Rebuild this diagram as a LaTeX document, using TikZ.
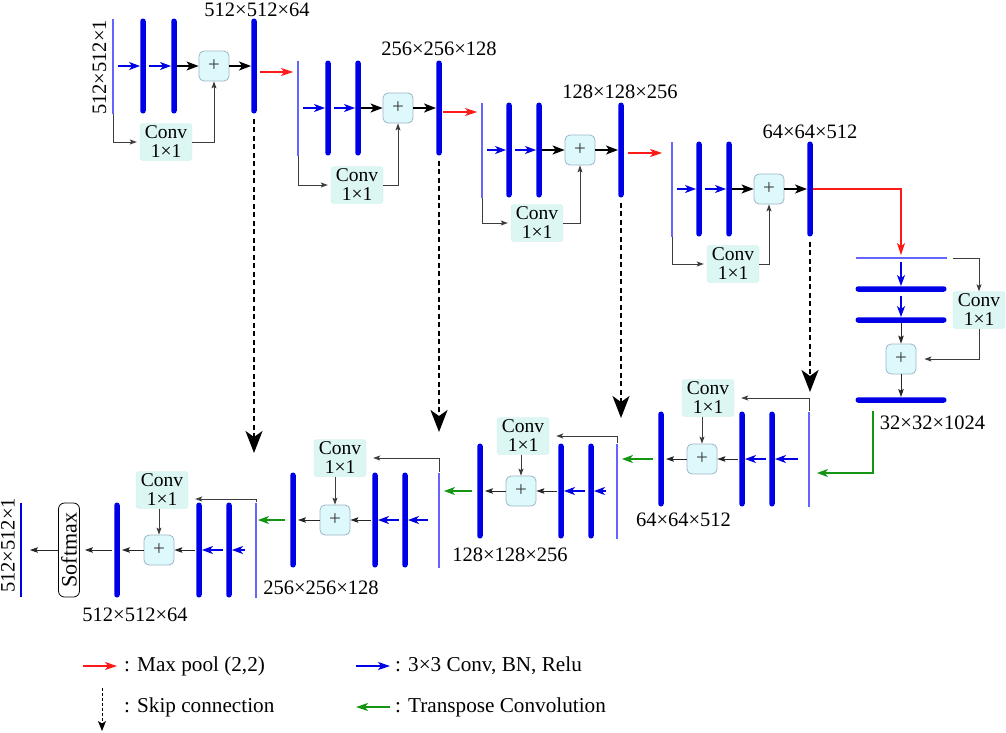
\documentclass[tikz,border=0pt]{standalone}
\usepackage{fontspec}
\setmainfont{Liberation Serif}
\usetikzlibrary{arrows.meta}
\definecolor{barblue}{RGB}{0,0,230}
\definecolor{inblue}{RGB}{100,100,255}
\definecolor{plusfill}{RGB}{222,249,252}
\definecolor{plusdraw}{RGB}{158,182,198}
\definecolor{convfill}{RGB}{220,247,243}
\definecolor{convdraw}{RGB}{204,238,234}
\definecolor{poolred}{RGB}{255,26,26}
\definecolor{tgreen}{RGB}{20,150,20}
\definecolor{linegray}{RGB}{60,60,60}
\tikzset{
  vbar/.style={fill=barblue, draw=none, minimum width=5.5pt, minimum height=95pt, inner sep=0pt, rounded corners=2.7pt},
  hbar/.style={fill=barblue, draw=none, minimum width=91pt, minimum height=5.5pt, inner sep=0pt, rounded corners=2.7pt},
  vin/.style={fill=inblue, draw=none, minimum width=1.4pt, minimum height=95pt, inner sep=0pt},
  hin/.style={fill=inblue, draw=none, minimum width=91pt, minimum height=1.4pt, inner sep=0pt},
  plusbox/.style={draw=plusdraw, fill=plusfill, rounded corners=5pt, minimum size=30pt, inner sep=0pt, line width=0.8pt, text=linegray, font=\fontsize{21}{21}\selectfont},
  convbox/.style={fill=convfill, draw=convdraw, rounded corners=3pt, minimum width=52pt, minimum height=37pt, inner sep=0.5pt, align=center, font=\fontsize{19.5}{19}\selectfont},
  dimlabel/.style={inner sep=0pt, font=\fontsize{20.5}{20}\selectfont},
  legtext/.style={inner sep=0pt, anchor=base west, font=\fontsize{21.2}{22}\selectfont},
  smbox/.style={draw=black, fill=white, rounded corners=6pt, rotate=90, minimum width=94pt, minimum height=21pt, inner sep=0pt, line width=0.8pt, font=\fontsize{22}{22}\selectfont},
  convarrow/.style={-{Stealth[length=11pt,width=8pt,inset=3pt]}, barblue, line width=1.3pt},
  addarrow/.style={-{Stealth[length=12pt,width=9pt,inset=3pt]}, black, line width=1.5pt},
  thinarrow/.style={-{Stealth[length=7pt,width=5pt,inset=1.5pt]}, linegray, line width=0.9pt},
  thinblack/.style={-{Stealth[length=8pt,width=5.5pt,inset=1.5pt]}, black!85, line width=0.9pt},
  poolarrow/.style={-{Stealth[length=12pt,width=8pt,inset=3pt]}, poolred, line width=1.3pt},
  transarrow/.style={-{Stealth[length=11pt,width=8pt,inset=3pt]}, tgreen, line width=1.3pt},
  skiparrow/.style={-{Stealth[length=22pt,width=17pt,inset=6pt]}, black, line width=2pt, dash pattern=on 5pt off 3.5pt},
  legskip/.style={-{Stealth[length=10pt,width=8pt,inset=2.5pt]}, black, line width=1pt, dash pattern=on 3pt off 2pt},
  legtip/.style={line width=1.2pt, -{Stealth[length=12pt,width=8pt,inset=3pt]}},
}
\begin{document}
\begin{tikzpicture}[x=1pt,y=-1pt]
\useasboundingbox (0,0) rectangle (1006,732);

% ---------------- Encoder blocks ----------------
\foreach \n/\xi/\xa/\xb/\xp/\xc/\y/\cx/\cy in {
  1/113/143/174/214/254/66/166/142,
  2/298/328/358/398/439/108/357/185,
  3/482/509/539/580/621/150/537/223,
  4/672/699/729/769/810/189/733/264}{
  \node[vin] (e\n-in) at (\xi,\y) {};
  \node[vbar] (e\n-b1) at (\xa,\y) {};
  \node[vbar] (e\n-b2) at (\xb,\y) {};
  \node[plusbox] (e\n-p) at (\xp,\y) {+};
  \node[vbar] (e\n-b3) at (\xc,\y) {};
  \node[convbox] (e\n-c) at (\cx,\cy) {Conv\\1×1};
  \draw[convarrow, shorten <=4pt] (e\n-in) -- (e\n-b1);
  \draw[convarrow, shorten <=3pt] (e\n-b1) -- (e\n-b2);
  \draw[addarrow] (e\n-b2) -- (e\n-p);
  \draw[addarrow] (e\n-p) -- (e\n-b3);
  \draw[thinarrow, shorten >=3pt] (e\n-in.south) |- (e\n-c.west);
  \draw[thinarrow] (e\n-c.east) -| (e\n-p.south);
}
\node[dimlabel, rotate=90] (lin) at (99.5,67.5) {512×512×1};
\node[dimlabel] (le1) at (257,10) {512×512×64};
\node[dimlabel] (le2) at (439,49) {256×256×128};
\node[dimlabel] (le3) at (620,91.5) {128×128×256};
\node[dimlabel] (le4) at (810,131.5) {64×64×512};

% max pooling
\draw[poolarrow, shorten <=3pt, shorten >=4pt] ([yshift=-6pt]e1-b3.east) -- ([yshift=-6pt]e1-b3.east -| e2-in.west);
\draw[poolarrow, shorten <=1.5pt, shorten >=4pt] ([yshift=-4pt]e2-b3.east) -- ([yshift=-4pt]e2-b3.east -| e3-in.west);
\draw[poolarrow, shorten <=4pt, shorten >=9pt] ([yshift=-3pt]e3-b3.east) -- ([yshift=-3pt]e3-b3.east -| e4-in.west);

% ---------------- Bottleneck ----------------
\node[hin] (bn-in) at (901,258) {};
\node[hbar] (bn-b1) at (901,289) {};
\node[hbar] (bn-b2) at (901,320) {};
\node[plusbox] (bn-p) at (901,359) {+};
\node[hbar] (bn-b3) at (901,400) {};
\node[convbox] (bn-c) at (979,310) {Conv\\1×1};
\node[dimlabel] (lbn) at (932.5,422.5) {32×32×1024};
\draw[poolarrow, shorten >=2pt] (e4-b3) -| (bn-in.north);
\draw[convarrow, shorten <=3pt] (bn-in) -- (bn-b1);
\draw[convarrow, shorten <=4pt] (bn-b1) -- (bn-b2);
\draw[thinblack] (bn-b2) -- (bn-p);
\draw[thinblack] (bn-p) -- (bn-b3);
\draw[thinarrow] ([xshift=6pt]bn-in.east) -| (bn-c.north);
\draw[thinarrow, shorten >=8pt] (bn-c.south) |- (bn-p.east);

% ---------------- Decoder blocks ----------------
\foreach \n/\xi/\xa/\xb/\xp/\xc/\y/\cx/\cy/\sh in {
  4/809/772/742/702/661/459/708/398/0,
  3/617/591/561/521/480/491/523/436/0,
  2/439/405/375/335/293/520/340/458/0,
  1/256/229/199/159/117/550/162/490/-9}{
  \node[vin] (d\n-in) at (\xi,\y) {};
  \node[vbar] (d\n-b1) at (\xa,\y) {};
  \node[vbar] (d\n-b2) at (\xb,\y) {};
  \node[plusbox] (d\n-p) at (\xp,\y) {+};
  \node[vbar] (d\n-b3) at (\xc,\y) {};
  \node[convbox] (d\n-c) at (\cx,\cy) {Conv\\1×1};
  \draw[convarrow, shorten <=10pt] (d\n-in) -- (d\n-b1);
  \draw[convarrow, shorten <=3pt] (d\n-b1) -- (d\n-b2);
  \draw[thinblack, shorten <=1pt] (d\n-b2) -- (d\n-p);
  \draw[thinblack, shorten >=2pt] (d\n-p) -- (d\n-b3);
  \draw[thinarrow, shorten >=7pt] (d\n-in.north) |- ([yshift=\sh pt]d\n-c.east);
  \draw[thinarrow] (d\n-p |- d\n-c.south) -- (d\n-p.north);
}
\node[dimlabel] (ld4) at (683.5,519.5) {64×64×512};
\node[dimlabel] (ld3) at (510,554.5) {128×128×256};
\node[dimlabel] (ld2) at (321,587.5) {256×256×128};
\node[dimlabel] (ld1) at (135,614.5) {512×512×64};

% transpose convolutions
\draw[transarrow, shorten <=8pt, shorten >=7pt] ([xshift=-28pt]bn-b3.south) |- ([yshift=-14pt]d4-in.east);
\draw[transarrow, shorten <=5pt, shorten >=4pt] (d4-b3.west) -- (d4-b3.west -| d3-in.east);
\draw[transarrow, shorten <=5pt, shorten >=4pt] (d3-b3.west) -- (d3-b3.west -| d2-in.east);
\draw[transarrow, shorten <=5pt, shorten >=1pt] (d2-b3.west) -- (d2-b3.west -| d1-in.east);

% output
\node[smbox] (sm) at (69,550) {Softmax};
\node[vin, fill=barblue, minimum height=94pt] (out) at (21,550) {};
\node[dimlabel, rotate=90] (lout) at (8,545.5) {512×512×1};
\draw[thinblack, shorten <=2pt, shorten >=5pt] (d1-b3) -- (sm);
\draw[thinblack, shorten >=8pt] (sm) -- (out);

% skip connections
\coordinate (sk1) at (254,453);
\coordinate (sk2) at (439,432);
\coordinate (sk3) at (621,418);
\coordinate (sk4) at (810,392);
\draw[skiparrow, shorten <=5pt] (e1-b3) -- (sk1);
\draw[skiparrow, shorten <=5pt] (e2-b3) -- (sk2);
\draw[skiparrow, shorten <=5pt] (e3-b3) -- (sk3);
\draw[skiparrow, shorten <=5pt] (e4-b3) -- (sk4);

% ---------------- Legend ----------------
\coordinate (lg1a) at (83,666);  \coordinate (lg1b) at (117,666);
\coordinate (lg2a) at (102,688); \coordinate (lg2b) at (102,731);
\coordinate (lg3a) at (356,666); \coordinate (lg3b) at (390,666);
\coordinate (lg4a) at (390,707); \coordinate (lg4b) at (356,707);
\draw[poolarrow, legtip] (lg1a) -- (lg1b);
\draw[legskip] (lg2a) -- (lg2b);
\draw[convarrow, legtip] (lg3a) -- (lg3b);
\draw[transarrow, legtip] (lg4a) -- (lg4b);
\node[legtext] (t1) at (124,671) {: Max pool (2,2)};
\node[legtext] (t2) at (124,712) {: Skip connection};
\node[legtext] (t3) at (395,671) {: 3×3 Conv, BN, Relu};
\node[legtext] (t4) at (395,712) {: Transpose Convolution};
\end{tikzpicture}
\end{document}
